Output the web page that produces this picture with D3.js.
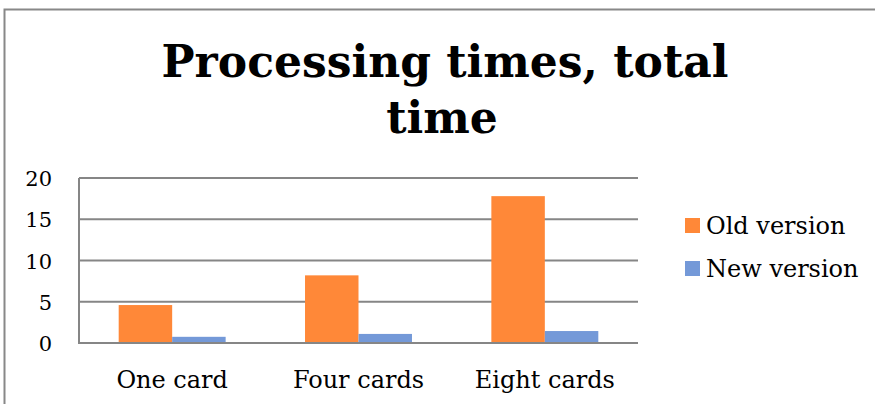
<!DOCTYPE html>
<html><head><meta charset="utf-8">
<script src="https://cdn.jsdelivr.net/npm/d3@7"></script>
<style>html,body{margin:0;padding:0;background:#fff;}svg{display:block;}</style>
</head><body>
<svg id="chart" width="875" height="404"></svg>
<script>
const categories = ["One card", "Four cards", "Eight cards"];
const seriesNames = ["Old version", "New version"];
const oldVersion = [4.6, 8.2, 17.8];
const newVersion = [0.75, 1.1, 1.45];
const yTicks = [0, 5, 10, 15, 20];
const colors = ["#FF8838", "#7499D8"];
const titleLines = ["Processing times, total", "time"];

(function () {
const svg = d3.select("#chart");
const font = "'DejaVu Serif', serif";

// frame
svg.append("path").attr("d", "M4.5,404 L4.5,9.5 L875,9.5")
  .attr("fill", "none").attr("stroke", "#888").attr("stroke-width", 2);

// title
svg.append("text").attr("x", 445).attr("y", 77).attr("text-anchor", "middle")
  .attr("font-family", font).attr("font-weight", "bold").attr("font-size", 44)
  .text(titleLines[0]);
svg.append("text").attr("x", 442).attr("y", 133).attr("text-anchor", "middle")
  .attr("font-family", font).attr("font-weight", "bold").attr("font-size", 44)
  .text(titleLines[1]);

const pl = 79, pr = 638, pt = 178, pb = 343;
const x0 = d3.scaleBand().domain(categories).range([pl, pr]).paddingInner(0.426).paddingOuter(0.213);
const x1 = d3.scaleBand().domain(seriesNames).range([0, x0.bandwidth()]);
const y = d3.scaleLinear().domain([0, 20]).range([pb, pt]);

// gridlines
svg.append("g").selectAll("line").data(yTicks.filter(d => d > 0)).join("line")
  .attr("x1", pl).attr("x2", pr)
  .attr("y1", d => y(d)).attr("y2", d => y(d))
  .attr("stroke", "#868686").attr("stroke-width", 2);

// bars
const data = categories.map((c, i) => ({c, vals: [oldVersion[i], newVersion[i]]}));
svg.append("g").selectAll("g").data(data).join("g")
  .attr("transform", d => `translate(${x0(d.c)},0)`)
  .selectAll("rect").data(d => d.vals.map((v, j) => ({v, s: seriesNames[j], j}))).join("rect")
  .attr("x", d => x1(d.s)).attr("width", x1.bandwidth())
  .attr("y", d => y(d.v)).attr("height", d => y(0) - y(d.v))
  .attr("fill", d => colors[d.j]);

// axes lines
svg.append("line").attr("x1", pl).attr("x2", pl).attr("y1", pt).attr("y2", pb + 1)
  .attr("stroke", "#868686").attr("stroke-width", 2);
svg.append("line").attr("x1", pl).attr("x2", pr).attr("y1", pb).attr("y2", pb)
  .attr("stroke", "#868686").attr("stroke-width", 2);

// y tick labels
const yAxis = d3.axisLeft(y).tickValues(yTicks).tickSize(0).tickPadding(0);
const ya = svg.append("g").attr("transform", `translate(52,0)`).call(yAxis);
ya.select(".domain").remove();
ya.selectAll("text").attr("font-family", font).attr("font-size", 21).attr("fill", "#000").attr("dy", "0.36em");

// x labels
const xAxis = d3.axisBottom(x0).tickSize(0).tickPadding(0);
const xa = svg.append("g").attr("transform", `translate(0,388)`).call(xAxis);
xa.select(".domain").remove();
xa.selectAll("text").attr("font-family", font).attr("font-size", 24).attr("fill", "#000").attr("dy", "0");

// legend
const lg = svg.append("g").selectAll("g").data(seriesNames).join("g")
  .attr("transform", (d, i) => `translate(685,${225.5 + i * 43})`);
lg.append("rect").attr("x", 0).attr("y", -7.5).attr("width", 15).attr("height", 15).attr("fill", (d, i) => colors[i]);
lg.append("text").attr("x", 21).attr("y", 8.5)
  .attr("font-family", font).attr("font-size", 24).text(d => d);
})();
</script>
</body></html>
